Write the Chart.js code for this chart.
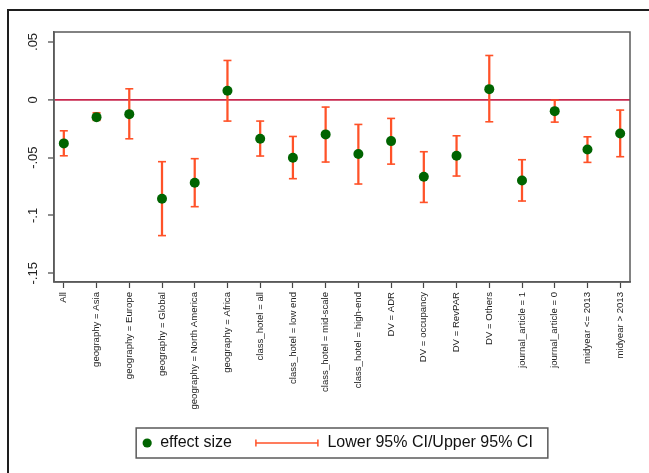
<!DOCTYPE html>
<html>
<head>
<meta charset="utf-8">
<script src="https://cdn.jsdelivr.net/npm/chart.js@4/dist/chart.umd.min.js"></script>
<style>
  html, body { margin: 0; padding: 0; background: #fff; }
  canvas { display: block; }
</style>
</head>
<body>
<canvas id="c" width="649" height="473"></canvas>
<script>
// Subgroup estimates with their 95% confidence intervals
const categories = [
  'All',
  'geography = Asia',
  'geography = Europe',
  'geography = Global',
  'geography = North America',
  'geography = Africa',
  'class_hotel = all',
  'class_hotel = low end',
  'class_hotel = mid-scale',
  'class_hotel = high-end',
  'DV = ADR',
  'DV = occupancy',
  'DV = RevPAR',
  'DV = Others',
  'journal_article = 1',
  'journal_article = 0',
  'midyear <= 2013',
  'midyear > 2013'
];
const effectSize = [-0.0377, -0.0150, -0.0124, -0.0855, -0.0717, 0.0078, -0.0337, -0.0501, -0.0299,
                    -0.0469, -0.0357, -0.0665, -0.0484, 0.0092, -0.0697, -0.0098, -0.0429, -0.0291];
const lowerCI    = [-0.0484, -0.0178, -0.0337, -0.1174, -0.0924, -0.0184, -0.0486, -0.0682, -0.0538,
                    -0.0728, -0.0556, -0.0887, -0.0659, -0.0190, -0.0875, -0.0193, -0.0541, -0.0492];
const upperCI    = [-0.0268, -0.0112, 0.0095, -0.0535, -0.0509, 0.0340, -0.0184, -0.0317, -0.0063,
                    -0.0213, -0.0161, -0.0449, -0.0311, 0.0383, -0.0518, -0.0003, -0.0320, -0.0089];
const yTickValues = [-0.15, -0.1, -0.05, 0, 0.05];
const yTickLabels = ['-.15', '-.1', '-.05', '0', '.05'];

const GREEN = '#006400';
const ORANGE = '#ff5228';
const ZERO_LINE = '#c8284f';
const FONT = "'Liberation Sans', Arial, sans-serif";

// Outer frame, plot box and the custom legend
const decorations = {
  id: 'decorations',
  beforeDraw(chart) {
    const ctx = chart.ctx;
    ctx.save();
    ctx.strokeStyle = '#1e1e1e';
    ctx.lineWidth = 2;
    ctx.beginPath();
    ctx.moveTo(649, 10);
    ctx.lineTo(8, 10);
    ctx.lineTo(8, 473);
    ctx.stroke();
    ctx.restore();
  },
  beforeDatasetsDraw(chart) {
    const {ctx, chartArea: a} = chart;
    ctx.save();
    ctx.strokeStyle = '#5a5a5a';
    ctx.lineWidth = 1.5;
    ctx.strokeRect(a.left, a.top, a.right - a.left, a.bottom - a.top);
    ctx.restore();
  },
  afterDraw(chart) {
    const {ctx, chartArea: a} = chart;
    const ds = chart.data.datasets;
    ctx.save();
    ctx.font = '16px ' + FONT;
    const t1 = ds[0].label, t2 = ds[1].label;
    const w1 = ctx.measureText(t1).width, w2 = ctx.measureText(t2).width;
    const padL = 6, dot = 10, gap1 = 8, gap2 = 24, sym = 62, gap3 = 9.5, padR = 15;
    const boxW = padL + dot + gap1 + w1 + gap2 + sym + gap3 + w2 + padR;
    const boxH = 30;
    const cx = (a.left + a.right) / 2;
    const left = cx - boxW / 2;
    const top = 428;
    const midY = top + boxH / 2;
    ctx.strokeStyle = '#5a5a5a';
    ctx.lineWidth = 1.5;
    ctx.strokeRect(left, top, boxW, boxH);
    // marker
    let x = left + padL;
    ctx.fillStyle = GREEN;
    ctx.beginPath();
    ctx.arc(x + dot / 2, midY, 4.6, 0, Math.PI * 2);
    ctx.fill();
    x += dot + gap1;
    ctx.fillStyle = '#111';
    ctx.textBaseline = 'middle';
    ctx.textAlign = 'left';
    ctx.fillText(t1, x, midY);
    x += w1 + gap2;
    // error bar symbol
    ctx.strokeStyle = ORANGE;
    ctx.lineWidth = 1.5;
    ctx.beginPath();
    ctx.moveTo(x, midY); ctx.lineTo(x + sym, midY);
    ctx.moveTo(x, midY - 3.5); ctx.lineTo(x, midY + 3.5);
    ctx.moveTo(x + sym, midY - 3.5); ctx.lineTo(x + sym, midY + 3.5);
    ctx.stroke();
    x += sym + gap3;
    ctx.fillStyle = '#111';
    ctx.fillText(t2, x, midY);
    ctx.restore();
  }
};

const pts = (arr) => arr.map((v, i) => ({x: i, y: v}));

new Chart(document.getElementById('c'), {
  data: {
    datasets: [
      {
        type: 'line',
        label: 'effect size',
        data: pts(effectSize),
        showLine: false,
        pointRadius: 5,
        pointHoverRadius: 5,
        pointBackgroundColor: GREEN,
        pointBorderWidth: 0,
        order: 0
      },
      {
        type: 'bar',
        label: 'Lower 95% CI/Upper 95% CI',
        data: categories.map((c, i) => ({x: i, y: [lowerCI[i], upperCI[i]]})),
        backgroundColor: ORANGE,
        borderWidth: 0,
        barThickness: 1.6,
        order: 1
      },
      {
        type: 'scatter',
        label: 'upper cap',
        data: pts(upperCI),
        pointStyle: 'line',
        pointRadius: 4,
        pointHoverRadius: 4,
        borderColor: ORANGE,
        pointBorderWidth: 1.6,
        order: 1
      },
      {
        type: 'scatter',
        label: 'lower cap',
        data: pts(lowerCI),
        pointStyle: 'line',
        pointRadius: 4,
        pointHoverRadius: 4,
        borderColor: ORANGE,
        pointBorderWidth: 1.6,
        order: 1
      }
    ]
  },
  options: {
    responsive: false,
    animation: false,
    devicePixelRatio: 1,
    layout: { padding: { top: 32, right: 19, left: 0, bottom: 61 } },
    plugins: { legend: { display: false }, tooltip: { enabled: false } },
    scales: {
      x: {
        type: 'linear',
        offset: false,
        min: -0.3,
        max: 17.3,
        afterBuildTicks: (s) => { s.ticks = categories.map((c, i) => ({value: i})); },
        afterFit: (s) => { s.height = 130; },
        grid: { display: true, offset: false, drawOnChartArea: false, drawTicks: true, tickLength: 6, tickColor: '#444', tickWidth: 1.2 },
        border: { display: true, color: '#5a5a5a', width: 1.5 },
        ticks: {
          autoSkip: false,
          minRotation: 90,
          maxRotation: 90,
          padding: 4,
          color: '#222',
          font: { family: FONT, size: 9.6 },
          callback: (v, i) => categories[i]
        }
      },
      y: {
        type: 'linear',
        min: -0.1575,
        max: 0.0586,
        afterBuildTicks: (s) => { s.ticks = yTickValues.map(v => ({value: v})); },
        afterFit: (s) => { s.width = 54; },
        grid: {
          display: true,
          drawOnChartArea: true,
          drawTicks: true,
          tickLength: 6,
          tickColor: '#444',
          tickWidth: 1.2,
          color: (c) => (c.tick && c.tick.value === 0 ? ZERO_LINE : 'rgba(0,0,0,0)'),
          lineWidth: (c) => (c.tick && c.tick.value === 0 ? 1.8 : 0)
        },
        border: { display: true, color: '#5a5a5a', width: 1.5 },
        ticks: {
          minRotation: 90,
          maxRotation: 90,
          crossAlign: 'center',
          padding: 3,
          color: '#222',
          font: { family: FONT, size: 13 },
          callback: (v, i) => yTickLabels[i]
        }
      }
    }
  },
  plugins: [decorations]
});
</script>
</body>
</html>
